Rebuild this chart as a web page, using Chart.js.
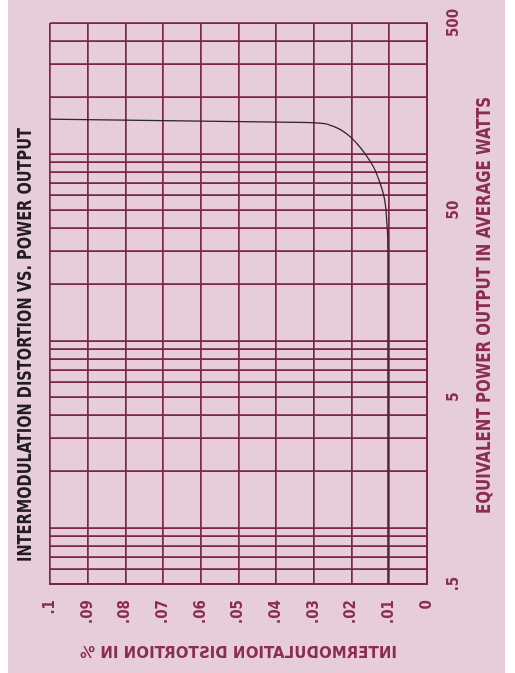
<!DOCTYPE html>
<html>
<head>
<meta charset="utf-8">
<script src="https://cdn.jsdelivr.net/npm/chart.js@4"></script>
<style>
    body { margin: 0; background: #ffffff; }
    #paper { position: absolute; left: 8px; top: 0; width: 497px; height: 673px; background: #e7cdda; }
    #turn { position: absolute; left: 0; top: 0; width: 673px; height: 515px;
            transform-origin: 0 0; transform: translateY(673px) rotate(-90deg); }
</style>
</head>
<body>
<div id="paper"></div>
<div id="turn"><canvas id="imdChart" width="673" height="515"></canvas></div>
<script>
// power output (watts), log axis
const powerGrid = [0.5, 0.6, 0.7, 0.8, 0.9, 1, 2, 3, 4, 5, 6, 7, 8, 9, 10,
    20, 30, 40, 50, 60, 70, 80, 90, 100, 200, 300, 400, 500];
const powerTickValues = [0.5, 5, 50, 500];
const powerTickLabels = ['.5', '5', '50', '500'];

// IM distortion (%)
const distortionTicks = [0, 0.01, 0.02, 0.03, 0.04, 0.05, 0.06, 0.07, 0.08, 0.09, 0.1];
const distortionLabels = ['0', '.01', '.02', '.03', '.04', '.05', '.06', '.07', '.08', '.09', '.1'];

// the curve
const curvePower = [0.5, 2, 10, 30, 39, 44, 52, 61, 72, 85, 100.5, 114, 126, 135, 142, 145.5, 147, 148.5, 153];
const curveDistortion = [0.0104, 0.0104, 0.0104, 0.0104, 0.0105, 0.0107, 0.0110, 0.0116, 0.0127, 0.0142,
    0.0165, 0.0187, 0.0209, 0.0231, 0.0257, 0.0282, 0.033, 0.050, 0.100];

const titleText = 'INTERMODULATION DISTORTION VS. POWER OUTPUT';
const powerTitle = 'EQUIVALENT POWER OUTPUT IN AVERAGE WATTS';
const distortionTitle = 'INTERMODULATION DISTORTION IN %';

const narrow = "'Liberation Sans Narrow', 'DejaVu Sans Condensed', sans-serif";
const maroon = '#8a2d50';
const gridColor = '#7a2846';

// squeeze a line of text to the width it has on the sheet
function drawFitted(ctx, text, font, color, cx, cy, width, angle, flip) {
    ctx.save();
    ctx.font = font;
    ctx.fillStyle = color;
    ctx.textAlign = 'center';
    ctx.textBaseline = 'middle';
    const w = ctx.measureText(text).width;
    ctx.translate(cx, cy);
    ctx.rotate(angle);
    ctx.scale(width / w, flip ? -1 : 1);
    ctx.fillText(text, 0, 0);
    ctx.restore();
}

// titles: the sheet uses a narrow face, and the y title is printed mirror-wise
const sheetTitles = {
    id: 'sheetTitles',
    afterDraw(chart) {
        const ctx = chart.ctx;
        const area = chart.chartArea;
        drawFitted(ctx, titleText, 'bold 20px ' + narrow, '#221d1f', 328, 26, 434, 0, false);
        drawFitted(ctx, powerTitle, 'bold 19px ' + narrow, maroon, (area.left + area.right) / 2 - 2, 485, 417, 0, false);
        drawFitted(ctx, distortionTitle, 'bold 16px ' + narrow, maroon, 19.5, 238.5, 317, -Math.PI / 2, true);
    }
};

function buildChart() {
    const ctx = document.getElementById('imdChart').getContext('2d');
    const points = curvePower.map((p, i) => ({ x: p, y: curveDistortion[i] }));

    return new Chart(ctx, {
        type: 'line',
        data: {
            datasets: [{
                data: points,
                borderColor: '#2e272a',
                borderWidth: 1.3,
                pointRadius: 0,
                cubicInterpolationMode: 'monotone',
                fill: false,
                clip: 4
            }]
        },
        options: {
            responsive: false,
            animation: false,
            layout: { padding: { left: 0, right: 23, top: 50, bottom: 0 } },
            plugins: {
                legend: { display: false },
                tooltip: { enabled: false }
            },
            scales: {
                x: {
                    type: 'logarithmic',
                    min: 0.5,
                    max: 500,
                    afterBuildTicks: (scale) => { scale.ticks = powerGrid.map(v => ({ value: v })); },
                    afterFit: (scale) => {
                        scale.height = 88;
                        scale.paddingLeft = 0;
                        scale.paddingRight = 0;
                    },
                    grid: { color: gridColor, lineWidth: 1.8, drawTicks: false },
                    border: { color: gridColor, width: 2 },
                    ticks: {
                        autoSkip: false,
                        maxRotation: 0,
                        padding: 18,
                        color: maroon,
                        font: { family: narrow, size: 15, weight: 'bold' },
                        callback: (value) => {
                            const k = powerTickValues.indexOf(value);
                            return k >= 0 ? powerTickLabels[k] : '';
                        }
                    }
                },
                y: {
                    type: 'linear',
                    min: 0,
                    max: 0.1,
                    afterBuildTicks: (scale) => { scale.ticks = distortionTicks.map(v => ({ value: v })); },
                    afterFit: (scale) => { scale.width = 89; },
                    grid: { color: gridColor, lineWidth: 1.8, drawTicks: false },
                    border: { color: gridColor, width: 2 },
                    ticks: {
                        autoSkip: false,
                        padding: 16,
                        color: maroon,
                        font: { family: narrow, size: 15, weight: 'bold' },
                        callback: (value, index) => distortionLabels[index]
                    }
                }
            }
        },
        plugins: [sheetTitles]
    });
}

document.addEventListener('DOMContentLoaded', () => {
    buildChart();
});
</script>
</body>
</html>
